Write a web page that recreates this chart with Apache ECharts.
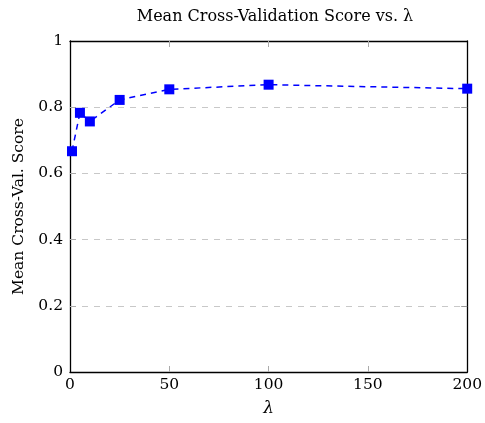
<!DOCTYPE html>
<html><head><meta charset="utf-8">
<script src="https://cdn.jsdelivr.net/npm/echarts@6/dist/echarts.min.js"></script>
<style>html,body{margin:0;padding:0;background:#fff}#c{width:485px;height:423px}</style>
</head><body><div id="c"></div>
<script>
const lambdas = [1, 5, 10, 25, 50, 100, 200];
const scores = [0.667, 0.783, 0.757, 0.822, 0.854, 0.868, 0.856];
const xTicks = [0, 50, 100, 150, 200];
const yTicks = [0, 0.2, 0.4, 0.6, 0.8, 1];
const xInner = xTicks.slice(1, -1);
const yInner = yTicks.slice(1, -1);
const FONT = '"DejaVu Serif", "Liberation Serif", serif';
const chart = echarts.init(document.getElementById('c'), null, {renderer: 'canvas'});
const fmtY = v => (Math.abs(v - 1) < 1e-9 ? '1' : Math.abs(v) < 1e-9 ? '0' : String(+v.toFixed(1)));
const frame = {show: true, onZero: false, lineStyle: {color: '#000', width: 1.3}};
const tick = c => ({show: true, inside: true, length: 6, lineStyle: {color: c}});
chart.setOption({
  animation: false,
  title: {text: 'Mean Cross-Validation Score vs. λ', left: 270, top: 4, textAlign: 'center',
    textStyle: {fontFamily: FONT, fontSize: 16, fontWeight: 'normal', color: '#000'}},
  grid: {left: 70, right: 15, top: 41, bottom: 51, show: false, containLabel: false},
  xAxis: [{
    type: 'value', min: 0, max: 200, interval: 50, position: 'bottom',
    name: 'λ', nameLocation: 'middle', nameGap: 28,
    nameTextStyle: {fontFamily: FONT, fontSize: 17, fontStyle: 'italic', color: '#000'},
    axisLine: frame, axisTick: Object.assign(tick('#aaa'), {customValues: xInner}),
    axisLabel: {fontFamily: FONT, fontSize: 15.5, color: '#000', margin: 5, customValues: xTicks, formatter: v => String(v)},
    splitLine: {show: false}
  }, {
    type: 'value', min: 0, max: 200, interval: 50, position: 'top',
    axisLine: frame, axisTick: Object.assign(tick('#aaa'), {customValues: xInner}),
    axisLabel: {show: false}, splitLine: {show: false}
  }],
  yAxis: [{
    type: 'value', min: 0, max: 1, interval: 0.2, position: 'left',
    name: 'Mean Cross-Val. Score', nameLocation: 'middle', nameGap: 39, nameRotate: 90,
    nameTextStyle: {fontFamily: FONT, fontSize: 15.5, color: '#000'},
    axisLine: frame, axisTick: Object.assign(tick('#aaa'), {customValues: yInner}),
    axisLabel: {fontFamily: FONT, fontSize: 15.5, color: '#000', margin: 7, customValues: yTicks, formatter: v => fmtY(v)},
    splitLine: {show: true, lineStyle: {color: '#c8c8c8', type: [6, 6], width: 1}}
  }, {
    type: 'value', min: 0, max: 1, interval: 0.2, position: 'right',
    axisLine: frame, axisTick: Object.assign(tick('#999'), {customValues: yInner}),
    axisLabel: {show: false}, splitLine: {show: false}
  }],
  series: [{
    type: 'line', xAxisIndex: 0, yAxisIndex: 0,
    data: lambdas.map((x, i) => [x, scores[i]]),
    symbol: 'rect', symbolSize: 10,
    lineStyle: {color: '#0000ff', width: 1.5, type: [6, 5]},
    itemStyle: {color: '#0000ff'},
    clip: false, z: 5
  }]
});
</script></body></html>
